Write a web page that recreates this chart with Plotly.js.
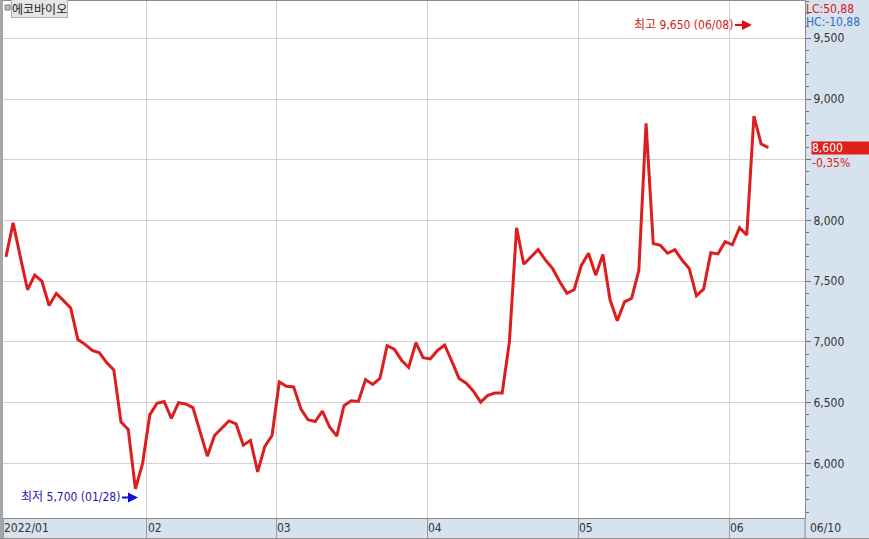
<!DOCTYPE html>
<html>
<head>
<meta charset="utf-8">
<script src="https://cdn.plot.ly/plotly-3.0.1.min.js"></script>
<style>
  html, body { margin: 0; padding: 0; background: #ffffff; }
  #chart { width: 869px; height: 539px; }
</style>
</head>
<body>
<div id="chart"></div>
<script>
// ---- data (closing prices per trading day, 2022/01/03 .. 2022/06/10) ----
const janValues = [7700, 7980, 7700, 7430, 7550, 7500, 7300, 7400, 7340, 7280,
                   7020, 6980, 6930, 6910, 6830, 6770, 6340, 6280, 5790, 6000];
const febValues = [6400, 6495, 6510, 6370, 6500, 6490, 6460, 6260, 6060, 6230,
                   6290, 6350, 6325, 6150, 6190, 5930, 6140, 6230];
const marValues = [6670, 6635, 6630, 6450, 6360, 6345, 6430, 6300, 6225, 6475,
                   6515, 6510, 6690, 6650, 6700, 6970, 6940, 6850, 6790, 6995, 6870];
const aprValues = [6860, 6930, 6975, 6840, 6700, 6660, 6595, 6505, 6560, 6580,
                   6580, 7000, 7940, 7640, 7700, 7760, 7675, 7605, 7495, 7400, 7430];
const mayValues = [7630, 7730, 7550, 7720, 7345, 7175, 7330, 7360, 7590, 8800,
                   7810, 7795, 7730, 7760, 7675, 7605, 7380, 7435, 7735, 7725, 7825];
const junValues = [7800, 7940, 7880, 8860, 8630, 8600];

const prices = [].concat(janValues, febValues, marValues, aprValues, mayValues, junValues);
const dayIndex = prices.map((_, i) => i);

// month start positions (trading-day index) and their labels
const monthStartIdx = [0, 20, 38, 59, 80, 101];
const monthLabels = ['2022/01', '02', '03', '04', '05', '06'];
const lastDateLabel = '06/10';

const yTickVals = [6000, 6500, 7000, 7500, 8000, 8500, 9000, 9500];
const yTickText = ['6,000', '6,500', '7,000', '7,500', '8,000', '', '9,000', '9,500'];

const stockName = '에코바이오';
const highText = '최고 9,650 (06/08)';
const lowText = '최저 5,700 (01/28)';
const lcText = 'LC:50,88';
const hcText = 'HC:-10,88';
const lastPriceText = '8,600';
const changeText = '-0,35%';

// ---- styling ----
const NARROW = '"Liberation Sans Narrow", "DejaVu Sans Condensed", "Arial Narrow", "Noto Sans CJK KR", sans-serif';
const KR = '"Noto Sans CJK KR", "Noto Sans", sans-serif';
const BAND = '#d7e2ef';
const GRID = '#d2d2d2';
const EDGE = '#8c8c8c';
const RED = '#dc1e1e';
const FS = 12;

const trace = {
  x: dayIndex,
  y: prices,
  type: 'scatter',
  mode: 'lines',
  line: { color: RED, width: 3 },
  hoverinfo: 'skip',
  showlegend: false
};

// empty helper trace so the minor-tick axis is drawn
const minorAxisTrace = {
  x: [], y: [], type: 'scatter', mode: 'lines', yaxis: 'y2',
  hoverinfo: 'skip', showlegend: false
};

// month gridlines sit at the left edge of each month's first trading-day slot
const gridPos = monthStartIdx.map(i => i - 0.4);

const labelAnns = monthLabels.map((t, k) => ({
  xref: 'x', yref: 'paper',
  x: gridPos[k], y: -0.0195,
  xanchor: 'left', yanchor: 'middle',
  text: t, showarrow: false,
  borderpad: 0,
  font: { family: NARROW, size: FS, color: '#333333' }
}));

const annotations = labelAnns.concat([
  { xref: 'paper', yref: 'paper', x: 1.0045, y: -0.0195, xanchor: 'left', yanchor: 'middle',
    text: lastDateLabel, showarrow: false, borderpad: 0,
    font: { family: NARROW, size: FS, color: '#333333' } },
  { xref: 'paper', yref: 'paper', x: 0.0105, y: 0.9852, xanchor: 'left', yanchor: 'middle',
    text: stockName, showarrow: false, borderpad: 0, borderwidth: 1,
    bgcolor: '#e6e6e6', bordercolor: '#b0b0b0',
    font: { family: KR, size: 12, color: '#222222' } },
  { xref: 'paper', yref: 'paper', x: 1.0, y: 1.0, xanchor: 'left', yanchor: 'top',
    text: lcText, showarrow: false, borderpad: 0,
    font: { family: NARROW, size: FS, color: '#d42020' } },
  { xref: 'paper', yref: 'paper', x: 1.0, y: 0.9745, xanchor: 'left', yanchor: 'top',
    text: hcText, showarrow: false, borderpad: 0,
    font: { family: NARROW, size: FS, color: '#2f6fc0' } },
  { xref: 'paper', yref: 'y', x: 1.0075, y: prices[prices.length - 1], xanchor: 'left', yanchor: 'middle',
    text: lastPriceText, showarrow: false, borderpad: 0, width: 58, height: 12, align: 'left',
    bgcolor: '#e0201b',
    font: { family: NARROW, size: FS, color: '#ffffff' } },
  { xref: 'paper', yref: 'y', x: 1.0075, y: prices[prices.length - 1], yshift: -7,
    xanchor: 'left', yanchor: 'top',
    text: changeText, showarrow: false, borderpad: 0,
    font: { family: NARROW, size: FS, color: '#d42020' } },
  { xref: 'paper', yref: 'paper', x: 0.9339, y: 0.9536, ax: -68, ay: 0,
    text: highText, showarrow: true, arrowhead: 2, arrowsize: 1, arrowwidth: 2,
    arrowcolor: '#e01010', standoff: 0, startstandoff: 0,
    font: { family: NARROW, size: FS, color: '#d41a22' } },
  { xref: 'paper', yref: 'paper', x: 0.1683, y: 0.0397, ax: -67, ay: 0,
    text: lowText, showarrow: true, arrowhead: 2, arrowsize: 1, arrowwidth: 2,
    arrowcolor: '#1010d0', standoff: 0, startstandoff: 0,
    font: { family: NARROW, size: FS, color: '#1a1aa8' } }
]);

const shapes = [
  // left gray border strip
  { type: 'rect', xref: 'paper', yref: 'paper', x0: -0.0038, x1: 0.0, y0: -0.0410, y1: 1.003,
    fillcolor: '#a6a6a6', line: { width: 0 }, layer: 'above' },
  // right separator through the date band
  { type: 'line', xref: 'paper', yref: 'paper', x0: 1.0, x1: 1.0, y0: -0.0410, y1: 0,
    line: { color: EDGE, width: 1 } },
  // bottom edge of the date band
  { type: 'line', xref: 'paper', yref: 'paper', x0: -0.0038, x1: 1.08, y0: -0.0397, y1: -0.0397,
    line: { color: EDGE, width: 1 } },
  // legend marker square
  { type: 'rect', xref: 'paper', yref: 'paper', x0: 0.0026, x1: 0.0088, y0: 0.9826, y1: 0.9923,
    fillcolor: '#bdbdbd', line: { color: '#7a7a7a', width: 1 }, layer: 'above' }
];

const yRange = [5550.8, 9806.7];

const layout = {
  width: 869, height: 539, autosize: false,
  margin: { l: 3, r: 64, t: 1, b: 21, pad: 0 },
  paper_bgcolor: BAND,
  plot_bgcolor: '#ffffff',
  showlegend: false,
  xaxis: {
    range: [-0.41, 111.1],
    tickmode: 'array', tickvals: gridPos,
    showticklabels: false,
    ticks: 'outside', ticklen: 21, tickwidth: 1, tickcolor: '#9c9c9c',
    showgrid: true, gridcolor: GRID, gridwidth: 1,
    showline: true, linecolor: EDGE, linewidth: 1, mirror: true,
    zeroline: false, fixedrange: true
  },
  yaxis: {
    side: 'right',
    range: yRange,
    tickmode: 'array', tickvals: yTickVals, ticktext: yTickText,
    ticks: 'outside', ticklen: 5, tickwidth: 1, tickcolor: '#707070',
    tickfont: { family: NARROW, size: FS, color: '#333333' },
    showgrid: true, gridcolor: GRID, gridwidth: 1,
    showline: true, linecolor: EDGE, linewidth: 1,
    zeroline: false, fixedrange: true
  },
  yaxis2: {
    overlaying: 'y', side: 'right',
    range: yRange,
    tickmode: 'linear', tick0: 0, dtick: 100,
    ticks: 'outside', ticklen: 3, tickwidth: 1, tickcolor: '#707070',
    showticklabels: false, showgrid: false, showline: false,
    zeroline: false, fixedrange: true
  },
  annotations: annotations,
  shapes: shapes
};

Plotly.newPlot('chart', [trace, minorAxisTrace], layout, { displayModeBar: false, staticPlot: true });
</script>
</body>
</html>
